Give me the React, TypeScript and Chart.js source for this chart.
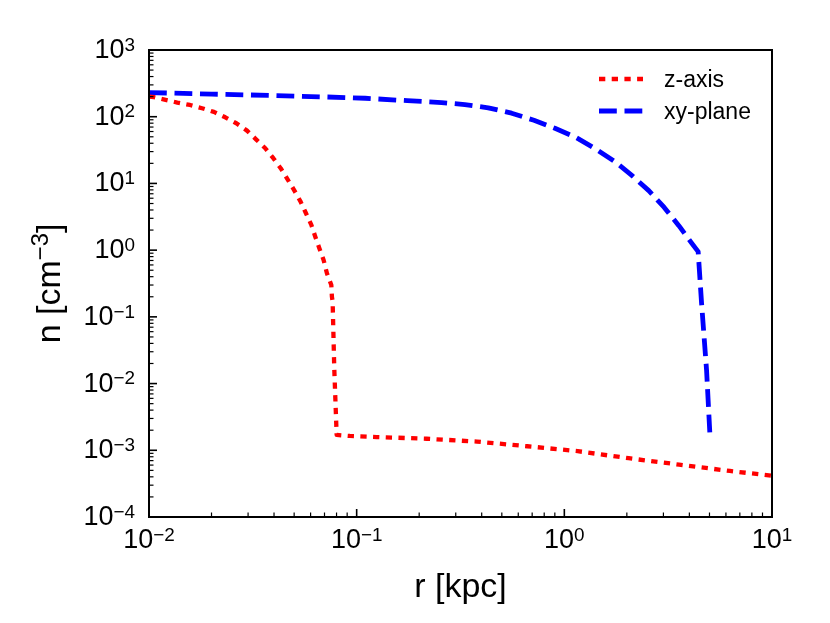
import { useEffect, useRef } from "react";
import { Chart, registerables } from "chart.js";

Chart.register(...registerables);

// density profiles (r in kpc, n in cm^-3)
const zAxisR = [
  0.01, 0.01057, 0.01369, 0.01575, 0.018, 0.02055, 0.0233, 0.02634, 0.02964, 0.03286, 0.0363, 0.03968,
  0.04305, 0.04634, 0.0499, 0.0537, 0.057, 0.0605, 0.0632, 0.0661, 0.0693, 0.0719, 0.0755, 0.076, 0.0766,
  0.078, 0.0801, 0.0928, 0.1249, 0.2173, 0.3796, 0.663, 1.16, 2.04, 3.57, 6.27, 10,
];
const zAxisN = [
  200, 196, 163, 150, 134, 118, 98, 79.8, 61.9, 45.4, 33.7, 23.9,
  16.9, 11.7, 8.0, 5.33, 3.57, 2.39, 1.59, 1.07, 0.713, 0.451, 0.3, 0.2, 0.17,
  0.017, 0.0017, 0.00164, 0.00158, 0.00149, 0.00135, 0.00115, 0.00097, 0.00076, 0.00061, 0.00049, 0.000415,
];

const xyPlaneR = [
  0.01, 0.02, 0.04, 0.07, 0.11, 0.1753, 0.2565, 0.332, 0.43, 0.5576, 0.714, 0.901, 1.133, 1.415, 1.752,
  2.12, 2.55, 3.02, 3.56, 4.13, 4.41, 4.58, 4.84, 5.02,
];
const xyPlaneN = [
  230, 218, 208, 198, 189, 174, 163, 152, 136, 113, 88.5, 67, 49.2, 32.9, 21.2,
  13.1, 7.8, 4.4, 2.33, 1.24, 0.95, 0.16, 0.016, 0.0018,
];

const xTickExps = [-2, -1, 0, 1];
const yTickExps = [-4, -3, -2, -1, 0, 1, 2, 3];

const legendLabels = ["z-axis", "xy-plane"];

const FONT = '"Liberation Sans", Arial, Helvetica, sans-serif';
const RED = "#ff0000";
const BLUE = "#0000ff";
const RED_DASH = [6.3, 6.4];
const BLUE_DASH = [17.8, 7.7];
const TICK_FONT = 27;

const supText = (e: number) => (e < 0 ? "\u2212" + -e : String(e));

function drawPow(ctx: CanvasRenderingContext2D, e: number, x: number, y: number, align: "center" | "right", size: number) {
  const small = size * 0.7;
  ctx.font = `${size}px ${FONT}`;
  const w1 = ctx.measureText("10").width;
  ctx.font = `${small}px ${FONT}`;
  const sup = supText(e);
  const w2 = ctx.measureText(sup).width;
  const total = w1 + w2;
  const start = align === "center" ? x - total / 2 : x - total;
  ctx.textAlign = "left";
  ctx.textBaseline = "alphabetic";
  ctx.font = `${size}px ${FONT}`;
  ctx.fillText("10", start, y);
  ctx.font = `${small}px ${FONT}`;
  ctx.fillText(sup, start + w1, y - size * 0.27);
}

const framePlugin = {
  id: "frame",
  afterDraw(chart: any) {
    const { ctx, chartArea: a, scales } = chart;
    const xs = scales.x;
    const ys = scales.y;
    ctx.save();
    ctx.strokeStyle = "#000";
    ctx.fillStyle = "#000";
    ctx.lineCap = "butt";

    const line = (x1: number, y1: number, x2: number, y2: number, w: number) => {
      ctx.lineWidth = w;
      ctx.beginPath();
      ctx.moveTo(x1, y1);
      ctx.lineTo(x2, y2);
      ctx.stroke();
    };

    // inward ticks, bottom and left only
    xTickExps.forEach((e, i) => {
      const px = xs.getPixelForValue(10 ** e);
      line(px, a.bottom, px, a.bottom - 8, 1.6);
      if (i < xTickExps.length - 1) {
        for (let m = 2; m <= 9; m++) {
          const mx = xs.getPixelForValue(m * 10 ** e);
          line(mx, a.bottom, mx, a.bottom - 4.5, 1.2);
        }
      }
    });
    yTickExps.forEach((e, i) => {
      const py = ys.getPixelForValue(10 ** e);
      line(a.left, py, a.left + 8, py, 1.6);
      if (i < yTickExps.length - 1) {
        for (let m = 2; m <= 9; m++) {
          const my = ys.getPixelForValue(m * 10 ** e);
          line(a.left, my, a.left + 4.5, my, 1.2);
        }
      }
    });

    ctx.lineWidth = 2;
    ctx.strokeRect(a.left, a.top, a.right - a.left, a.bottom - a.top);

    // tick labels
    xTickExps.forEach((e) => drawPow(ctx, e, xs.getPixelForValue(10 ** e), a.bottom + 31, "center", TICK_FONT));
    yTickExps.forEach((e) => drawPow(ctx, e, a.left - 14, ys.getPixelForValue(10 ** e) + 8, "right", TICK_FONT));

    // axis titles
    ctx.textAlign = "center";
    ctx.textBaseline = "alphabetic";
    ctx.font = `34px ${FONT}`;
    ctx.fillText("r [kpc]", (a.left + a.right) / 2, 597);

    ctx.save();
    ctx.translate(60, (a.top + a.bottom) / 2);
    ctx.rotate(-Math.PI / 2);
    ctx.textAlign = "left";
    ctx.font = `34px ${FONT}`;
    const p1 = "n [cm";
    const p3 = "]";
    const w1 = ctx.measureText(p1).width;
    const w3 = ctx.measureText(p3).width;
    ctx.font = `${34 * 0.7}px ${FONT}`;
    const p2 = "\u22123";
    const w2 = ctx.measureText(p2).width;
    const s = -(w1 + w2 + w3) / 2;
    ctx.font = `34px ${FONT}`;
    ctx.fillText(p1, s, 0);
    ctx.fillText(p3, s + w1 + w2, 0);
    ctx.font = `${34 * 0.7}px ${FONT}`;
    ctx.fillText(p2, s + w1, -12);
    ctx.restore();

    // legend
    const styles = [
      { color: RED, dash: RED_DASH, width: 4.3 },
      { color: BLUE, dash: BLUE_DASH, width: 4.8 },
    ];
    legendLabels.forEach((label, i) => {
      const y = 79 + i * 32;
      ctx.save();
      ctx.strokeStyle = styles[i].color;
      ctx.setLineDash(styles[i].dash);
      ctx.lineWidth = styles[i].width;
      ctx.beginPath();
      ctx.moveTo(599, y);
      ctx.lineTo(643, y);
      ctx.stroke();
      ctx.restore();
      ctx.font = `23px ${FONT}`;
      ctx.textAlign = "left";
      ctx.fillText(label, 664, y + 8);
    });

    ctx.restore();
  },
};

export default function App() {
  const canvasRef = useRef<HTMLCanvasElement>(null);
  const chartRef = useRef<Chart | null>(null);

  useEffect(() => {
    if (!canvasRef.current) return;
    const ctx = canvasRef.current.getContext("2d");
    if (!ctx) return;

    chartRef.current?.destroy();
    chartRef.current = new Chart(ctx, {
      type: "line",
      data: {
        datasets: [
          {
            label: legendLabels[0],
            data: zAxisR.map((r, i) => ({ x: r, y: zAxisN[i] })),
            borderColor: RED,
            borderDash: RED_DASH,
            borderWidth: 4.3,
            borderCapStyle: "butt",
            borderJoinStyle: "round",
            pointRadius: 0,
            tension: 0,
          },
          {
            label: legendLabels[1],
            data: xyPlaneR.map((r, i) => ({ x: r, y: xyPlaneN[i] })),
            borderColor: BLUE,
            borderDash: BLUE_DASH,
            borderWidth: 4.8,
            borderCapStyle: "butt",
            borderJoinStyle: "round",
            pointRadius: 0,
            tension: 0,
          },
        ],
      },
      options: {
        responsive: true,
        maintainAspectRatio: false,
        animation: false,
        layout: { padding: { left: 149, right: 58, top: 50, bottom: 106 } },
        plugins: { legend: { display: false }, tooltip: { enabled: false } },
        scales: {
          x: { type: "logarithmic", min: 0.01, max: 10, display: false },
          y: { type: "logarithmic", min: 1e-4, max: 1e3, display: false },
        },
      },
      plugins: [framePlugin],
    });

    return () => chartRef.current?.destroy();
  }, []);

  return (
    <div style={{ position: "fixed", left: 0, top: 0, width: 830, height: 623, background: "#fff" }}>
      <canvas ref={canvasRef} />
    </div>
  );
}
